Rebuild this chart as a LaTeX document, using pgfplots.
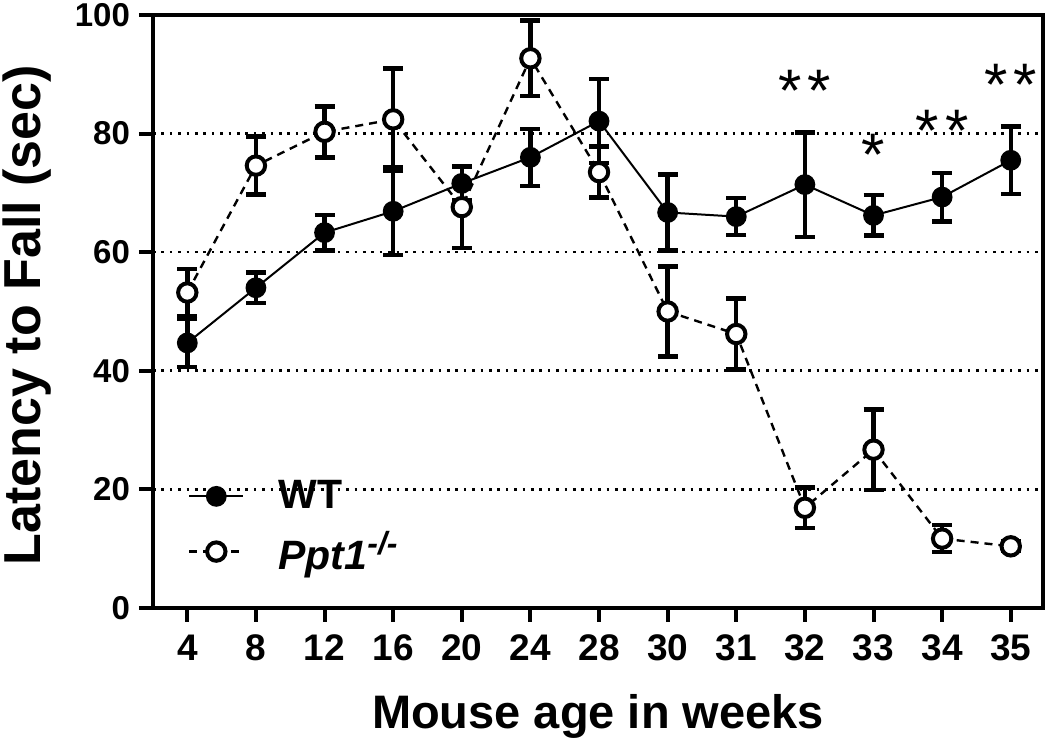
\documentclass[border=0pt]{standalone}
\usepackage{fontspec}
\setmainfont{Liberation Sans}
\usepackage{pgfplots}
\pgfplotsset{compat=1.18}
\begin{document}
\begin{tikzpicture}
\begin{axis}[
  scale only axis, width=445pt, height=296.5pt,
  xmin=-0.5, xmax=12.47, ymin=0, ymax=100,
  clip=false,
  axis lines=box,
  axis line style={line width=2pt},
  xtick={0,...,12},
  xticklabels={4,8,12,16,20,24,28,30,31,32,33,34,35},
  ytick={0,20,40,60,80,100},
  xtick pos=bottom, ytick pos=left,
  tick align=outside,
  major tick length=7pt,
  tick style={line width=2pt, black},
  /pgf/number format/assume math mode=true,
  xticklabel style={font=\bfseries\fontsize{18.5}{18.5}\selectfont, yshift=-3pt},
  yticklabel style={font=\bfseries\fontsize{16.5}{16.5}\selectfont, xshift=-1pt},
  ymajorgrids,
  grid style={line width=1.3pt, dash pattern=on 1.3pt off 2.9pt, black},
  xlabel={Mouse age in weeks},
  ylabel={Latency to Fall (sec)},
  xlabel style={font=\bfseries\fontsize{23.5}{23.5}\selectfont, at={(axis description cs:0.5,-0.204)}, anchor=base},
  ylabel style={font=\bfseries\fontsize{26}{26}\selectfont, at={(axis description cs:-0.141,0.494)}, anchor=center, rotate=0},
  legend style={draw=none, fill=none, at={(axis description cs:0.039,0.222)}, anchor=north west,
    font=\bfseries\fontsize{20.5}{20.5}\selectfont, row sep=5.5pt, column sep=15pt, inner sep=0pt, cells={anchor=west}},
  reverse legend,
  legend image code/.code={\draw[#1, mark repeat=2, mark phase=2] plot coordinates {(0pt,0pt) (13.5pt,0pt) (27pt,0pt)};},
  error bars/y dir=both, error bars/y explicit,
  error bars/error bar style={line width=2.2pt, solid, black},
  error bars/error mark options={rotate=90, line width=2.2pt, mark size=5pt, solid, black},
]
% Ppt1 -/-
\addplot[black, line width=1.2pt, dash pattern=on 4pt off 3pt,
  mark=*, mark size=4.6pt, mark options={solid, fill=white, draw=black, line width=2pt}]
  coordinates {
  (0,53.2) +- (0,4.0)
  (1,74.6) +- (0,4.9)
  (2,80.3) +- (0,4.3)
  (3,82.4) +- (0,8.6)
  (4,67.6) +- (0,6.9)
  (5,92.7) +- (0,6.4)
  (6,73.5) +- (0,4.3)
  (7,50.0) +- (0,7.6)
  (8,46.2) +- (0,6.0)
  (9,16.9) +- (0,3.4)
  (10,26.7) +- (0,6.8)
  (11,11.7) +- (0,2.3)
  (12,10.4) +- (0,0.8)
  };
\addlegendentry{\textit{Ppt1\textsuperscript{\fontsize{16}{16}\selectfont -/-}}}
% WT
\addplot[black, line width=1pt, solid,
  mark=*, mark size=4.8pt, mark options={solid, fill=black, draw=black, line width=0.8pt}]
  coordinates {
  (0,44.7) +- (0,4.1)
  (1,54.0) +- (0,2.6)
  (2,63.3) +- (0,3.0)
  (3,66.9) +- (0,7.4)
  (4,71.6) +- (0,2.8)
  (5,76.0) +- (0,4.8)
  (6,82.1) +- (0,7.1)
  (7,66.7) +- (0,6.4)
  (8,66.0) +- (0,3.1)
  (9,71.4) +- (0,8.8)
  (10,66.2) +- (0,3.4)
  (11,69.3) +- (0,4.1)
  (12,75.5) +- (0,5.7)
  };
\addlegendentry{WT}
\node[anchor=base, font=\fontsize{30}{30}\selectfont] at (axis cs:9,83.8) {*\hspace{3pt}*};
\node[anchor=base, font=\fontsize{30}{30}\selectfont] at (axis cs:10,73.0) {*};
\node[anchor=base, font=\fontsize{30}{30}\selectfont] at (axis cs:11,77.0) {*\hspace{3pt}*};
\node[anchor=base, font=\fontsize{30}{30}\selectfont] at (axis cs:12,84.8) {*\hspace{3pt}*};
\coordinate (sw) at (rel axis cs:0,0);
\coordinate (ne) at (rel axis cs:1,1);
\end{axis}
\draw[line width=2.2pt, black] (sw |- ne) -- (ne) -- (ne |- sw);
\pgfresetboundingbox
\path ([shift={(-76.5pt,-65pt)}]sw) rectangle ([shift={(3.5pt,7.5pt)}]ne);
\end{tikzpicture}
\end{document}
